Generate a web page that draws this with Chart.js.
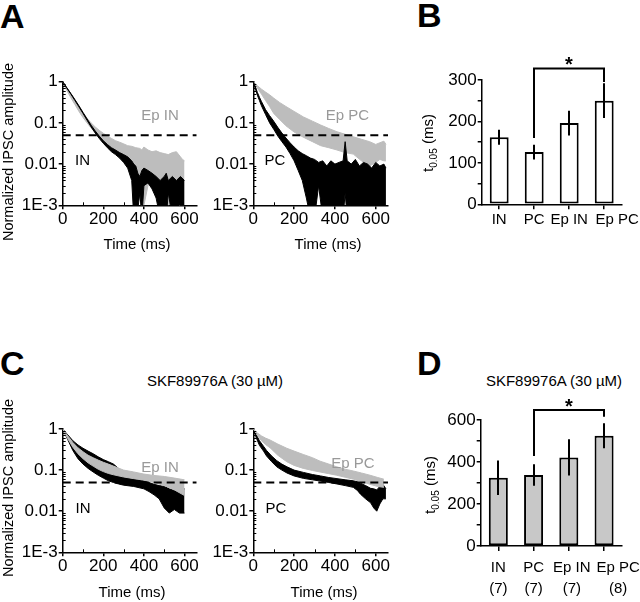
<!DOCTYPE html>
<html><head><meta charset="utf-8">
<script src="https://cdn.jsdelivr.net/npm/chart.js@4.4.1/dist/chart.umd.min.js"></script>
<style>
html,body{margin:0;padding:0;background:#fff;}
body{width:640px;height:602px;position:relative;overflow:hidden;font-family:"Liberation Sans",Arial,sans-serif;}
.t{position:absolute;white-space:nowrap;color:#000;}
.letter{font-weight:bold;font-size:34px;line-height:34px;}
.sub{font-size:15px;line-height:15px;transform:translateX(-50%);}
</style></head><body>
<div class="t letter" style="left:0px;top:-1px">A</div>
<div class="t letter" style="left:417px;top:-2px">B</div>
<div class="t letter" style="left:0px;top:346px">C</div>
<div class="t letter" style="left:417px;top:346px">D</div>
<div class="t sub" style="left:215px;top:373px">SKF89976A (30 µM)</div>
<div class="t sub" style="left:554px;top:373px">SKF89976A (30 µM)</div>
<script>
// ---------------- DATA ----------------
// Time axis ticks (ms) and log amplitude ticks
const xTickVals = [0, 200, 400, 600];
const xMinorVals = [100, 300, 500];
const yTickVals = [0.001, 0.01, 0.1, 1];
const yTickText = ['1E-3', '0.01', '0.1', '1'];
const yMinorVals = [0.002,0.003,0.004,0.005,0.006,0.007,0.008,0.009,0.02,0.03,0.04,0.05,0.06,0.07,0.08,0.09,0.2,0.3,0.4,0.5,0.6,0.7,0.8,0.9];
const threshold = 0.05;
const thresholdSpan = [0, 660];

// Panel A left: IN (black) noisy trace, upper / lower envelope
const tA_IN   = [0,20,40,60,80,100,120,140,160,180,200,220,240,260,280,300,320,340,350,360,370,380,390,400,420,440,460,480,500,510,520,540,560,580,600];
const hiA_IN  = [1,0.72,0.52,0.37,0.26,0.18,0.125,0.088,0.064,0.048,0.037,0.03,0.025,0.022,0.019,0.017,0.015,0.012,0.01,0.009,0.006,0.005,0.007,0.008,0.007,0.006,0.005,0.004,0.005,0.006,0.004,0.005,0.004,0.005,0.004];
const loA_IN  = [1,0.70,0.50,0.35,0.245,0.17,0.116,0.08,0.057,0.042,0.032,0.025,0.02,0.017,0.014,0.011,0.008,0.004,0.0005,0.0005,0.0008,0.002,0.0005,0.003,0.0035,0.0025,0.0015,0.0005,0.0005,0.0005,0.002,0.0005,0.001,0.0005,0.0005];
// Panel A left: Ep IN (gray)
const tA_EpIN  = [0,20,40,60,80,100,120,140,160,180,200,220,240,260,280,300,320,340,360,380,390,400,420,440,460,480,500,520,540,560,580,590,600];
const hiA_EpIN = [1,0.68,0.47,0.33,0.24,0.175,0.13,0.1,0.08,0.066,0.056,0.048,0.042,0.037,0.034,0.031,0.028,0.027,0.025,0.024,0.022,0.026,0.022,0.02,0.021,0.019,0.018,0.017,0.019,0.02,0.015,0.013,0.012];
const loA_EpIN = [1,0.62,0.41,0.28,0.19,0.135,0.1,0.075,0.058,0.046,0.037,0.03,0.024,0.019,0.015,0.012,0.009,0.006,0.004,0.0015,0.0008,0.001,0.003,0.004,0.0025,0.002,0.0015,0.001,0.0012,0.002,0.0008,0.0008,0.0008];
// Panel A right: PC (black)
const tA_PC  = [0,10,20,30,40,60,80,100,120,140,160,180,200,220,240,260,280,300,320,340,360,380,400,420,440,450,460,480,500,520,540,560,580,600,620,640,650];
const hiA_PC = [1,0.75,0.55,0.42,0.33,0.21,0.15,0.11,0.078,0.057,0.043,0.033,0.026,0.021,0.018,0.016,0.014,0.013,0.011,0.012,0.009,0.012,0.01,0.011,0.012,0.035,0.012,0.01,0.013,0.009,0.011,0.01,0.008,0.011,0.009,0.01,0.008];
const loA_PC = [1,0.68,0.47,0.35,0.26,0.16,0.1,0.07,0.048,0.035,0.026,0.018,0.012,0.007,0.004,0.0015,0.0005,0.0005,0.003,0.0005,0.0005,0.0005,0.0005,0.0005,0.0005,0.002,0.0005,0.0005,0.0005,0.0005,0.0005,0.0005,0.0005,0.0005,0.0005,0.0005,0.0005];
// Panel A right: Ep PC (gray)
const tA_EpPC  = [0,20,40,60,80,100,130,160,200,245,290,330,370,410,450,490,530,570,600,620,640,650];
const hiA_EpPC = [1,0.8,0.66,0.56,0.48,0.4,0.31,0.25,0.19,0.14,0.11,0.089,0.073,0.061,0.053,0.046,0.04,0.035,0.03,0.033,0.036,0.03];
const loA_EpPC = [1,0.7,0.5,0.35,0.25,0.17,0.12,0.085,0.06,0.045,0.035,0.028,0.025,0.022,0.019,0.0175,0.012,0.009,0.011,0.013,0.012,0.012];

// Panel C left: IN (black) with SKF89976A
const tC_IN  = [0,25,50,75,100,125,150,175,200,225,250,275,300,350,400,425,450,475,500,525,550,575,600];
const hiC_IN = [1,0.72,0.52,0.41,0.34,0.29,0.25,0.21,0.18,0.16,0.14,0.11,0.07,0.062,0.055,0.05,0.045,0.042,0.04,0.035,0.032,0.033,0.035];
const loC_IN = [1,0.55,0.3,0.19,0.14,0.11,0.09,0.075,0.064,0.055,0.05,0.046,0.043,0.04,0.035,0.03,0.025,0.02,0.012,0.009,0.011,0.009,0.009];
// Panel C left: Ep IN (gray)
const tC_EpIN  = [0,25,50,75,100,125,150,175,200,225,250,300,350,400,450,500,550,600];
const hiC_EpIN = [1,0.68,0.47,0.35,0.28,0.23,0.2,0.175,0.155,0.14,0.125,0.1,0.09,0.08,0.074,0.07,0.064,0.058];
const loC_EpIN = [1,0.58,0.36,0.25,0.19,0.15,0.125,0.105,0.092,0.083,0.077,0.068,0.062,0.057,0.05,0.042,0.033,0.024];
// Panel C right: PC (black)
const tC_PC  = [0,15,30,50,65,90,115,140,165,200,245,290,330,370,410,450,490,510,525,550,575,590,605,620,635,650];
const hiC_PC = [1,0.72,0.52,0.38,0.3,0.22,0.17,0.14,0.12,0.1,0.088,0.078,0.072,0.066,0.062,0.058,0.055,0.052,0.048,0.042,0.036,0.035,0.033,0.04,0.045,0.035];
const loC_PC = [1,0.6,0.4,0.29,0.22,0.16,0.12,0.1,0.085,0.072,0.063,0.058,0.054,0.05,0.046,0.042,0.038,0.032,0.026,0.02,0.016,0.012,0.01,0.015,0.02,0.02];
// Panel C right: Ep PC (gray)
const tC_EpPC  = [0,20,40,60,82,120,164,200,245,290,327,370,409,450,490,530,572,610,640];
const hiC_EpPC = [1,0.8,0.68,0.6,0.54,0.43,0.34,0.29,0.24,0.2,0.165,0.14,0.12,0.105,0.095,0.085,0.075,0.066,0.06];
const loC_EpPC = [1,0.7,0.52,0.42,0.35,0.23,0.16,0.13,0.11,0.098,0.09,0.082,0.075,0.067,0.06,0.052,0.045,0.04,0.038];

// Bar panels: t0.05 (ms), mean and error
const groups = ['IN', 'PC', 'Ep IN', 'Ep PC'];
const t05Control = [162, 126, 196, 250];
const errControl = [18, 18, 30, 42];
const t05SKF = [325, 338, 422, 525];
const errSKF = [82, 51, 86, 60];
const nCells = ['(7)', '(7)', '(7)', '(8)'];
const bTicks = [0, 50, 100, 150, 200, 250, 300];
const dTicks = [0, 100, 200, 300, 400, 500, 600];
// significance bracket: [fromIndex, toIndex, topValue, leftLegEnd, rightLegEnd]
const bracketB = [1, 3, 328, 160, 295];
const bracketD = [1, 3, 648, 429, 616];

// ---------------- STYLE / LAYOUT ----------------
const BLACK = '#000000', GRAY = '#bdbdbd', GRAYTXT = '#999999';
const FAM = '"Liberation Sans", Arial, sans-serif';
Chart.defaults.font.family = FAM;
Chart.defaults.color = '#000';

function mkCanvas(l, t, w, h) {
  const c = document.createElement('canvas');
  c.width = w; c.height = h;
  c.style.cssText = `position:absolute;left:${l}px;top:${t}px;width:${w}px;height:${h}px`;
  document.body.appendChild(c);
  return c;
}

function textPlugin(origin, items) {
  return {
    id: 'pageText',
    afterDraw(chart) {
      const ctx = chart.ctx;
      for (const it of items) {
        ctx.save();
        ctx.translate(it.x - origin[0], it.y - origin[1]);
        if (it.rot) ctx.rotate(it.rot);
        if (it.subtitle) {
          const parts = [['t', '15px', 0], ['0.05', '10px', 4], [' (ms)', '15px', 0]];
          let total = 0;
          for (const p of parts) { ctx.font = p[1] + ' ' + FAM; total += ctx.measureText(p[0]).width; }
          let pos = -total / 2;
          ctx.fillStyle = BLACK; ctx.textBaseline = 'alphabetic'; ctx.textAlign = 'left';
          for (const p of parts) {
            ctx.font = p[1] + ' ' + FAM;
            ctx.fillText(p[0], pos, 5 + p[2]);
            pos += ctx.measureText(p[0]).width;
          }
        } else {
          ctx.font = (it.font || '15px') + ' ' + FAM;
          ctx.fillStyle = it.color || BLACK;
          ctx.textAlign = it.align || 'center';
          ctx.textBaseline = it.baseline || 'alphabetic';
          ctx.fillText(it.text, 0, 0);
        }
        ctx.restore();
      }
    }
  };
}

const minorTickPlugin = {
  id: 'minorTicks',
  afterDraw(chart) {
    const ctx = chart.ctx, xs = chart.scales.x, ys = chart.scales.y, a = chart.chartArea;
    ctx.save(); ctx.strokeStyle = BLACK; ctx.lineWidth = 1; ctx.beginPath();
    for (const v of yMinorVals) { const p = Math.round(ys.getPixelForValue(v)) + 0.5; ctx.moveTo(a.left, p); ctx.lineTo(a.left + 3, p); }
    for (const v of xMinorVals) { const p = Math.round(xs.getPixelForValue(v)) + 0.5; ctx.moveTo(p, a.bottom); ctx.lineTo(p, a.bottom - 3); }
    ctx.stroke(); ctx.restore();
  }
};

function logChart(canvasBox, area, traces, texts) {
  const [cl, ct, cw, ch] = canvasBox;
  const el = mkCanvas(cl, ct, cw, ch);
  const datasets = [{
    data: thresholdSpan.map(x => ({x, y: threshold})),
    borderColor: BLACK, borderWidth: 2, borderDash: [8, 5], pointRadius: 0, fill: false
  }];
  for (const tr of traces) {
    datasets.push({data: tr.t.map((x, i) => ({x, y: tr.hi[i]})), borderColor: tr.color, borderWidth: 1, pointRadius: 0, fill: false});
    datasets.push({data: tr.t.map((x, i) => ({x, y: tr.lo[i]})), borderColor: tr.color, borderWidth: 1, pointRadius: 0, fill: '-1', backgroundColor: tr.color});
  }
  const tickFont = {size: 17, family: FAM};
  new Chart(el, {
    type: 'line',
    data: {datasets},
    options: {
      animation: false, responsive: false, devicePixelRatio: 1,
      layout: {padding: {top: area.T - ct, right: cl + cw - area.R, left: 0, bottom: 0}},
      plugins: {legend: {display: false}, tooltip: {enabled: false}},
      elements: {line: {tension: 0}},
      scales: {
        x: {
          type: 'linear', min: 0, max: 660,
          afterBuildTicks: s => { s.ticks = xTickVals.map(v => ({value: v})); },
          afterFit: s => { s.height = ct + ch - area.B; },
          ticks: {font: tickFont, color: BLACK, padding: 0, maxRotation: 0, autoSkip: false},
          grid: {drawOnChartArea: false, tickLength: 4, color: BLACK, lineWidth: 1.5},
          border: {color: BLACK, width: 1.5}
        },
        y: {
          type: 'logarithmic', min: 0.001, max: 1,
          afterBuildTicks: s => { s.ticks = yTickVals.map(v => ({value: v})); },
          afterFit: s => { s.width = area.L - cl; },
          ticks: {font: tickFont, color: BLACK, padding: 1, autoSkip: false,
                  callback: v => yTickText[yTickVals.indexOf(v)]},
          grid: {drawOnChartArea: false, tickLength: 4, color: BLACK, lineWidth: 1.5},
          border: {color: BLACK, width: 1.5}
        }
      }
    },
    plugins: [minorTickPlugin, textPlugin([cl, ct], texts)]
  });
}

function barChart(canvasBox, area, values, errs, ticksArr, labelEvery, fillColor, bracket, labelShift, texts, showN, nameY, nY) {
  const [cl, ct, cw, ch] = canvasBox;
  const el = mkCanvas(cl, ct, cw, ch);
  const barExtras = {
    id: 'barExtras',
    afterDatasetsDraw(chart) {
      const ctx = chart.ctx, ys = chart.scales.y, meta = chart.getDatasetMeta(0);
      ctx.save(); ctx.strokeStyle = BLACK; ctx.lineWidth = 2; ctx.lineCap = 'butt';
      // error bars
      values.forEach((v, i) => {
        const x = Math.round(meta.data[i].x);
        ctx.beginPath(); ctx.moveTo(x, ys.getPixelForValue(v - errs[i])); ctx.lineTo(x, ys.getPixelForValue(v + errs[i])); ctx.stroke();
      });
      // significance bracket
      const [fi, ti, top, lEnd, rEnd] = bracket;
      const x1 = Math.round(meta.data[fi].x), x2 = Math.round(meta.data[ti].x), yT = ys.getPixelForValue(top);
      ctx.beginPath();
      ctx.moveTo(x1, ys.getPixelForValue(lEnd)); ctx.lineTo(x1, yT); ctx.lineTo(x2, yT); ctx.lineTo(x2, ys.getPixelForValue(rEnd));
      ctx.stroke();
      ctx.fillStyle = BLACK; ctx.font = 'bold 20px ' + FAM; ctx.textAlign = 'center'; ctx.textBaseline = 'alphabetic';
      ctx.fillText('*', (x1 + x2) / 2, yT + 3);
      // category labels
      ctx.font = '15px ' + FAM; ctx.textBaseline = 'middle';
      groups.forEach((g, i) => {
        const x = meta.data[i].x + labelShift[i];
        ctx.fillText(g, x, nameY - ct);
        if (showN) ctx.fillText(nCells[i], x, nY - ct);
      });
      ctx.restore();
    }
  };
  new Chart(el, {
    type: 'bar',
    data: {labels: groups, datasets: [{data: values, backgroundColor: fillColor, borderColor: BLACK, borderWidth: 2, borderSkipped: false, barPercentage: 0.54, categoryPercentage: 1}]},
    options: {
      animation: false, responsive: false, devicePixelRatio: 1,
      layout: {padding: {top: area.T - ct, right: cl + cw - area.R, left: 0, bottom: 0}},
      plugins: {legend: {display: false}, tooltip: {enabled: false}},
      scales: {
        x: {
          afterFit: s => { s.height = ct + ch - area.B; },
          ticks: {display: false},
          grid: {drawOnChartArea: false, offset: false, tickLength: 5, color: BLACK, lineWidth: 1.5},
          border: {color: BLACK, width: 1.5}
        },
        y: {
          min: ticksArr[0], max: ticksArr[ticksArr.length - 1],
          afterBuildTicks: s => { s.ticks = ticksArr.map(v => ({value: v})); },
          afterFit: s => { s.width = area.L - cl; },
          ticks: {font: {size: 17, family: FAM}, color: BLACK, padding: 1, autoSkip: false,
                  callback: v => (v % labelEvery === 0 ? String(v) : '')},
          grid: {drawOnChartArea: false, tickLength: 4, color: BLACK, lineWidth: 1.5},
          border: {color: BLACK, width: 1.5}
        }
      }
    },
    plugins: [barExtras, textPlugin([cl, ct], texts)]
  });
}

const HALF = -Math.PI / 2;
// Panel A
logChart([0, 60, 210, 200], {L: 62.7, T: 81.7, R: 196.7, B: 205.3},
  [{t: tA_IN, hi: hiA_IN, lo: loA_IN, color: BLACK}, {t: tA_EpIN, hi: hiA_EpIN, lo: loA_EpIN, color: GRAY}],
  [{text: 'Normalized IPSC amplitude', x: 9, y: 152, rot: HALF, font: '14.5px', baseline: 'middle'},
   {text: 'Time (ms)', x: 137, y: 245, baseline: 'middle'},
   {text: 'Ep IN', x: 160, y: 120, color: GRAYTXT},
   {text: 'IN', x: 82.5, y: 165}]);
logChart([210, 60, 190, 200], {L: 253.3, T: 81.7, R: 388, B: 205.3},
  [{t: tA_PC, hi: hiA_PC, lo: loA_PC, color: BLACK}, {t: tA_EpPC, hi: hiA_EpPC, lo: loA_EpPC, color: GRAY}],
  [{text: 'Time (ms)', x: 328, y: 245, baseline: 'middle'},
   {text: 'Ep PC', x: 347.5, y: 120, color: GRAYTXT},
   {text: 'PC', x: 275, y: 165}]);
// Panel C
logChart([0, 390, 210, 212], {L: 62.7, T: 429, R: 196.7, B: 552.3},
  [{t: tC_EpIN, hi: hiC_EpIN, lo: loC_EpIN, color: GRAY}, {t: tC_IN, hi: hiC_IN, lo: loC_IN, color: BLACK}],
  [{text: 'Normalized IPSC amplitude', x: 9, y: 488, rot: HALF, font: '14.5px', baseline: 'middle'},
   {text: 'Time (ms)', x: 132, y: 593, baseline: 'middle'},
   {text: 'Ep IN', x: 160, y: 471.7, color: GRAYTXT},
   {text: 'IN', x: 83, y: 513}]);
logChart([210, 390, 190, 212], {L: 253.3, T: 429, R: 388, B: 552.3},
  [{t: tC_EpPC, hi: hiC_EpPC, lo: loC_EpPC, color: GRAY}, {t: tC_PC, hi: hiC_PC, lo: loC_PC, color: BLACK}],
  [{text: 'Time (ms)', x: 324, y: 593, baseline: 'middle'},
   {text: 'Ep PC', x: 353, y: 468, color: GRAYTXT},
   {text: 'PC', x: 276, y: 513}]);
// Panel B
barChart([420, 40, 220, 200], {L: 481.7, T: 80, R: 621.7, B: 204.3},
  t05Control, errControl, bTicks, 100, '#ffffff', bracketB, [0, 0, 0, 13],
  [{subtitle: true, x: 428, y: 143, rot: HALF}], false, 220, 0);
// Panel D
barChart([420, 395, 220, 207], {L: 480.7, T: 420, R: 621.7, B: 546},
  t05SKF, errSKF, dTicks, 200, '#c8c8c8', bracketD, [0, 0, 3, 14],
  [{subtitle: true, x: 430, y: 485, rot: HALF}], true, 568, 589);
</script>
</body></html>
